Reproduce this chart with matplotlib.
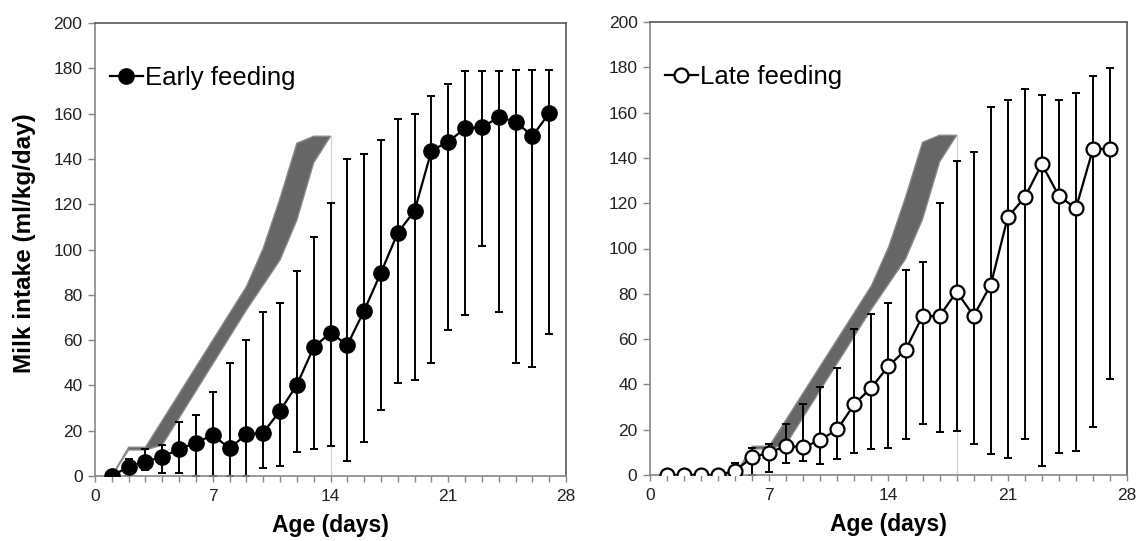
import matplotlib
matplotlib.use("Agg")
import matplotlib.pyplot as plt
from matplotlib.ticker import MultipleLocator
import numpy as np

plt.rcParams['font.family'] = ['Liberation Sans', 'DejaVu Sans']

days = list(range(1, 28))

early_mean = [0, 4.1, 6.3, 8.5, 11.8, 14.7, 18.1, 12.2, 18.4, 19.1, 28.8, 40.2, 56.8, 63.3,
              57.8, 73.0, 89.8, 107.4, 117.1, 143.6, 147.6, 153.5, 153.9, 158.4, 156.4, 150.1, 160.1]
early_upper = [0, 7.5, 11.9, 13.7, 23.7, 26.9, 36.9, 49.7, 60.0, 72.3, 76.2, 90.5, 105.5, 120.4,
               140.1, 142.3, 148.3, 157.5, 159.8, 167.8, 173.1, 178.7, 178.7, 178.8, 179.1, 179.4, 179.2]
early_lower = [0, 1.5, 2.6, 1.2, 1.5, 0, 0, 0, 0, 3.4, 4.4, 10.4, 11.8, 13.4,
               6.8, 15.0, 29.0, 41.2, 42.5, 50.0, 64.3, 71.2, 101.7, 72.3, 49.9, 48.0, 62.7]

late_mean = [0, 0, 0, 0, 1.9, 7.8, 9.9, 12.9, 12.2, 15.5, 20.2, 31.3, 38.6, 48.1,
             55.2, 70.2, 70.2, 80.9, 70.3, 83.9, 113.8, 122.6, 137.3, 123.2, 117.7, 143.8, 144.1]
late_upper = [0, 0, 0, 0, 5.2, 12.1, 13.7, 22.4, 31.2, 39.0, 47.2, 64.3, 71.1, 76.1,
              90.5, 94.0, 120.2, 138.8, 142.8, 162.6, 165.6, 170.4, 167.9, 165.6, 168.5, 176.3, 179.5]
late_lower = [0, 0, 0, 0, 0, 0, 1.5, 5.1, 6.2, 5.0, 6.9, 9.6, 11.5, 11.9,
              15.7, 22.5, 19.1, 19.4, 13.5, 9.1, 7.4, 15.7, 4.0, 9.9, 10.7, 21.3, 42.5]

# recommended-intake band (shape, days relative to start)
band_upper_x = [1, 2, 3, 9, 10, 11, 12, 13, 14]
band_upper_y = [0, 12.7, 12.7, 83.6, 100.5, 122.6, 146.9, 150, 150]
band_lower_x = [1, 2, 3, 4, 9, 10, 11, 12, 13, 14]
band_lower_y = [0, 11.5, 11.5, 13.7, 73.3, 84.3, 95.4, 113, 138.3, 150]
early_band_shift = 0
late_band_shift = 4

x_ticks = [0, 7, 14, 21, 28]
y_ticks = [0, 20, 40, 60, 80, 100, 120, 140, 160, 180, 200]

fig = plt.figure(figsize=(11.37, 5.41), dpi=100)
ax1 = fig.add_axes([95/1137, 65/541, 471/1137, 453/541])
ax2 = fig.add_axes([650/1137, 66/541, 477/1137, 453/541])

def draw(ax, mean, upper, lower, shift, filled, label):
    ux = np.array(band_upper_x) + shift
    lx = np.array(band_lower_x) + shift
    poly_x = np.concatenate([ux, lx[::-1]])
    poly_y = np.concatenate([band_upper_y, band_lower_y[::-1]])
    ax.fill(poly_x, poly_y, facecolor='#666666', edgecolor='#8a8a8a', linewidth=1.0, zorder=1)
    ax.plot([ux[-1], ux[-1]], [0, band_upper_y[-1]], color='#d4d4d4', linewidth=1.0, zorder=1)

    m = np.array(mean)
    yerr = np.vstack([m - np.array(lower), np.array(upper) - m])
    yerr = np.clip(yerr, 0, None)
    ax.errorbar(days, m, yerr=yerr, fmt='none', ecolor='black', elinewidth=1.4,
                capsize=3.2, capthick=1.4, zorder=2)
    if filled:
        ax.plot(days, m, '-o', color='black', linewidth=1.6, markersize=11,
                markerfacecolor='black', markeredgecolor='black', zorder=3, label=label)
    else:
        ax.plot(days, m, '-o', color='black', linewidth=1.6, markersize=10,
                markerfacecolor='white', markeredgecolor='black', markeredgewidth=1.6,
                zorder=3, label=label)

    ax.set_xlim(0, 28)
    ax.set_ylim(0, 200)
    ax.set_xticks(x_ticks)
    ax.xaxis.set_minor_locator(MultipleLocator(1))
    ax.set_yticks(y_ticks)
    ax.tick_params(axis='both', which='both', direction='out', color='#888888',
                   labelsize=12.5, labelcolor='#222222')
    ax.tick_params(axis='x', which='both', length=4.5, width=1, pad=5)
    ax.tick_params(axis='y', which='major', length=5, width=1, pad=4)
    ax.spines['left'].set_color('#888888')
    ax.spines['bottom'].set_color('#888888')
    ax.spines['top'].set_color('#555555')
    ax.spines['right'].set_color('#555555')
    for s in ax.spines.values():
        s.set_linewidth(1.2)
    ax.set_xlabel('Age (days)', fontsize=16.5, fontweight='bold')
    ax.xaxis.set_label_coords(0.5, -0.083)
    ax.legend(loc='upper left', bbox_to_anchor=(0.0, 0.94), frameon=False,
              fontsize=18.5, handlelength=1.25, handletextpad=0.1, borderaxespad=0.4,
              borderpad=0.2)

draw(ax1, early_mean, early_upper, early_lower, early_band_shift, True, 'Early feeding')
draw(ax2, late_mean, late_upper, late_lower, late_band_shift, False, 'Late feeding')
ax1.set_ylabel('Milk intake (ml/kg/day)', fontsize=17.5, fontweight='bold')
ax1.yaxis.set_label_coords(-0.125, 0.515)

fig.savefig('out.png', dpi=100)
